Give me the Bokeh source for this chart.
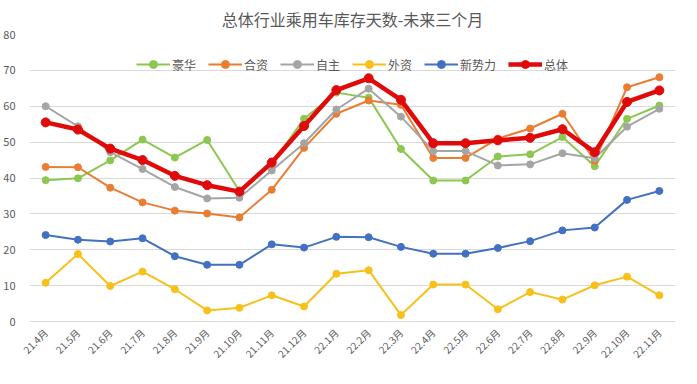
import math
from bokeh.plotting import figure
from bokeh.models import FactorRange, Range1d, Legend, LegendItem
from bokeh.embed import file_html
from bokeh.resources import INLINE

months = ["21.4月", "21.5月", "21.6月", "21.7月", "21.8月", "21.9月", "21.10月", "21.11月", "21.12月",
          "22.1月", "22.2月", "22.3月", "22.4月", "22.5月", "22.6月", "22.7月", "22.8月", "22.9月",
          "22.10月", "22.11月"]

luxury = [39.4, 39.9, 44.9, 50.7, 45.7, 50.6, 36.4, 44.0, 56.5, 63.8, 62.4, 48.1, 39.3, 39.3,
          46.0, 46.6, 51.4, 43.3, 56.5, 60.2]
joint = [43.1, 43.0, 37.3, 33.2, 30.9, 30.1, 29.0, 36.7, 48.4, 57.9, 61.6, 60.4, 45.6, 45.6,
         51.0, 53.8, 57.9, 44.8, 65.3, 68.1]
domestic = [60.0, 54.4, 47.2, 42.5, 37.5, 34.3, 34.5, 42.1, 49.7, 59.1, 64.9, 57.1, 47.5, 47.5,
            43.5, 43.8, 46.9, 45.5, 54.3, 59.3]
foreign = [10.8, 18.8, 9.9, 13.9, 9.0, 3.1, 3.8, 7.3, 4.2, 13.3, 14.3, 1.8, 10.3, 10.3,
           3.4, 8.2, 6.1, 10.1, 12.5, 7.3]
newforce = [24.1, 22.8, 22.3, 23.2, 18.2, 15.8, 15.8, 21.5, 20.6, 23.6, 23.5, 20.8, 18.9, 18.9,
            20.5, 22.4, 25.4, 26.2, 33.9, 36.4]
total = [55.5, 53.5, 48.2, 45.0, 40.6, 38.0, 36.2, 44.3, 54.5, 64.5, 67.8, 61.8, 49.7, 49.7,
         50.5, 51.2, 53.6, 47.2, 61.2, 64.4]

series_names = ["豪华", "合资", "自主", "外资", "新势力", "总体"]
series_values = [luxury, joint, domestic, foreign, newforce, total]
series_colors = ["#8CC751", "#E97D32", "#A5A5A5", "#F7C01A", "#4371C2", "#E00A0A"]
y_ticks = [0, 10, 20, 30, 40, 50, 60, 70, 80]

FONT = "Noto Sans CJK SC"

p = figure(width=681, height=368, output_backend="svg", toolbar_location=None,
           x_range=FactorRange(*months, range_padding=0), y_range=Range1d(0, 80),
           title="总体行业乘用车库存天数-未来三个月")
p.min_border_left = 6
p.min_border_right = 6
p.min_border_top = 4
p.min_border_bottom = 0

p.title.align = "center"
p.title.text_font = FONT
p.title.text_font_size = "16px"
p.title.text_font_style = "normal"
p.title.text_color = "#595959"
p.title.offset = 0
p.title.standoff = 8

p.outline_line_color = None
p.background_fill_color = "white"
p.border_fill_color = "white"

p.xgrid.grid_line_color = None
p.ygrid.grid_line_color = "#D9D9D9"
p.ygrid.grid_line_width = 1
p.yaxis.ticker = y_ticks
p.yaxis.axis_line_color = None
p.yaxis.major_tick_line_color = None
p.yaxis.minor_tick_line_color = None
p.yaxis.major_label_text_color = "#595959"
p.yaxis.major_label_text_font = FONT
p.yaxis.major_label_text_font_size = "11px"
p.yaxis.major_label_standoff = 8

p.xaxis.axis_line_color = "#D9D9D9"
p.xaxis.major_tick_line_color = None
p.xaxis.minor_tick_line_color = None
p.xaxis.major_label_orientation = math.pi / 4
p.xaxis.major_label_text_color = "#595959"
p.xaxis.major_label_text_font = FONT
p.xaxis.major_label_text_font_size = "10px"
p.xaxis.major_label_standoff = 3

items = []
for name, vals, col in zip(series_names, series_values, series_colors):
    thick = name == "总体"
    lw = 4.5 if thick else 2
    sz = 9 if thick else 7
    r1 = p.line(months, vals, line_color=col, line_width=lw)
    r2 = p.scatter(months, vals, size=sz, fill_color=col, line_color=col)
    items.append(LegendItem(label=name, renderers=[r1, r2]))

legend = Legend(items=items, orientation="horizontal", location="top_center")
legend.background_fill_alpha = 0
legend.border_line_color = None
legend.label_text_font = FONT
legend.label_text_font_size = "12px"
legend.label_text_color = "#595959"
legend.glyph_width = 34
legend.spacing = 12
legend.label_standoff = 2
legend.margin = 20
legend.padding = 0
p.add_layout(legend)

open("out.html", "w").write(file_html(p, INLINE))
